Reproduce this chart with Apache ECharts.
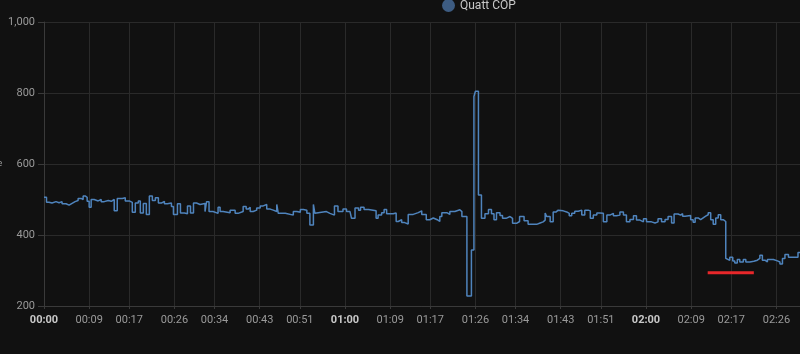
<!DOCTYPE html>
<html>
<head>
<meta charset="utf-8">
<script src="https://cdn.jsdelivr.net/npm/echarts@6/dist/echarts.min.js"></script>
<style>
html,body{margin:0;padding:0;background:#111111;}
#c{width:800px;height:354px;}
</style>
</head>
<body>
<div id="c"></div>
<script>
// time in minutes since 00:00
var times = [
  0, 0.5, 1, 1.6, 2.4, 3, 3.6, 4.4, 5, 5.6, 6.2, 6.8, 7.4, 7.8, 8.2, 8.6, 9, 9.4, 10, 10.8,
  11.4, 12, 12.8, 13.4, 14, 14.6, 15.6, 16.2, 17, 17.6, 18.2, 18.8, 19.2, 19.8, 20.4, 21, 21.6, 22.2, 22.8, 23.4,
  24, 24.6, 25.4, 25.8, 26.6, 27.2, 28, 28.6, 29.2, 29.8, 30.4, 31.1, 32.1, 32.4, 32.9, 33.7, 34.7, 35.1, 35.7, 37.1,
  38.1, 38.7, 39.7, 40.3, 40.7, 41.1, 41.7, 42.4, 43.1, 43.7, 44.4, 45.1, 45.7, 46.4, 46.7, 48.1, 49.7, 50.4, 51.1, 51.7,
  52.4, 53.0, 53.7, 54.0, 54.3, 56.3, 57.0, 57.9, 58.6, 59.6, 60.3, 61.0, 61.3, 62.0, 62.7, 63.1, 63.8, 64.7, 66.2, 66.6,
  67.3, 67.8, 68.3, 69.6, 70.2, 70.6, 71.3, 71.9, 72.6, 73.6, 74.6, 75.3, 76.2, 76.9, 77.6, 78.4, 78.9, 79.3, 80.3, 80.9,
  81.9, 82.9, 83.3, 84.3, 85.2, 85.7, 86.0, 86.6, 87.2, 87.9, 88.6, 89.2, 89.7, 90.2, 90.9, 91.4, 92.1, 92.9, 93.4, 94.2,
  94.8, 95.7, 96.5, 98.2, 98.9, 99.5, 99.9, 100.2, 100.9, 101.5, 102.1, 102.5, 103.5, 104.2, 104.7, 105.2, 105.8, 106.5, 107.2, 107.8,
  108.5, 108.9, 109.5, 110.2, 110.8, 111.5, 112.2, 112.8, 113.5, 114.1, 114.8, 115.5, 116.1, 116.8, 117.5, 118.1, 118.8, 119.5, 120.1, 121.1,
  121.8, 122.4, 123.1, 123.8, 124.4, 125.1, 125.6, 126.4, 126.9, 127.3, 127.8, 128.9, 129.4, 129.8, 130.4, 130.9, 131.4, 131.9, 132.4, 132.9,
  133.4, 133.9, 134.4, 134.9, 135.4, 135.9, 136.2, 136.7, 137.3, 137.7, 138.2, 138.7, 139.4, 139.9, 140.7, 141.5, 142.2, 142.7, 143.2, 143.7,
  144.2, 145.4, 146.2, 146.7, 147.2, 147.7, 148.4, 150.3, 150.7
];
var copValues = [
  506, 492, 490, 494, 491, 494, 488, 484, 489, 494, 497, 503, 500, 510, 506, 495, 478, 500, 496, 500,
  494, 497, 495, 500, 468, 503, 505, 496, 492, 464, 490, 496, 462, 489, 458, 510, 497, 505, 490, 495,
  488, 490, 480, 458, 488, 462, 460, 482, 462, 490, 486, 489, 466, 494, 466, 461, 478, 466, 463, 470,
  461, 466, 480, 473, 478, 466, 470, 476, 482, 486, 473, 470, 466, 486, 461, 456, 466, 464, 472, 470,
  461, 428, 486, 461, 466, 461, 456, 482, 466, 473, 466, 470, 447, 476, 470, 478, 472, 468, 447, 456,
  463, 472, 460, 462, 438, 443, 435, 431, 458, 463, 468, 458, 443, 448, 443, 438, 452, 463, 458, 466,
  471, 466, 452, 228, 358, 790, 805, 513, 447, 460, 472, 460, 443, 463, 455, 447, 452, 447, 433, 438,
  452, 440, 430, 434, 437, 442, 462, 452, 437, 465, 470, 468, 465, 461, 454, 461, 467, 470, 456, 470,
  468, 447, 456, 462, 461, 437, 456, 461, 454, 456, 465, 456, 437, 444, 454, 442, 437, 446, 437, 434,
  437, 446, 437, 444, 452, 434, 459, 456, 460, 453, 455, 443, 436, 448, 443, 448, 453, 457, 463, 443,
  430, 448, 457, 443, 438, 334, 329, 337, 327, 321, 331, 324, 331, 324, 326, 329, 334, 343, 329, 324,
  331, 327, 324, 318, 334, 345, 337, 351, 351
];
var tickMinutes = [0, 9, 17, 26, 34, 43, 51, 60, 69, 77, 86, 94, 103, 111, 120, 129, 137, 146];
var tickLabels = ['00:00','00:09','00:17','00:26','00:34','00:43','00:51','01:00','01:09','01:17','01:26','01:34','01:43','01:51','02:00','02:09','02:17','02:26'];
var boldLabels = ['00:00','01:00','02:00'];
var markTimes = [132.3, 141.5];
var markValues = [294, 294];

var seriesData = times.map(function (t, i) { return [t, copValues[i]]; });
var markData = markTimes.map(function (t, i) { return [t, markValues[i]]; });

var chart = echarts.init(document.getElementById('c'), null, {renderer: 'canvas'});
chart.setOption({
  backgroundColor: '#111111',
  animation: false,
  textStyle: {fontFamily: 'Roboto, Inter, sans-serif'},
  legend: {
    data: [{name: 'Quatt COP', icon: 'circle'}],
    left: 437, top: -6,
    itemWidth: 13, itemHeight: 13, itemGap: 10,
    textStyle: {color: '#c8c8c8', fontSize: 12, fontFamily: 'Roboto, sans-serif'}
  },
  grid: {left: 44, right: 0, top: 22, bottom: 48, containLabel: false, outerBoundsMode: 'none'},
  xAxis: {
    type: 'value', min: 0, max: 150.7,
    axisLine: {show: true, lineStyle: {color: '#3a3a3a'}},
    axisTick: {show: true, customValues: tickMinutes, length: 3, lineStyle: {color: '#3a3a3a'}},
    splitLine: {show: true, lineStyle: {color: '#2a2a2a', width: 1}},
    axisLabel: {
      customValues: tickMinutes,
      margin: 9,
      color: '#9a9a9a', fontSize: 11, fontFamily: 'Roboto, sans-serif',
      formatter: function (v) {
        var i = tickMinutes.indexOf(Math.round(v));
        var s = i >= 0 ? tickLabels[i] : '';
        return boldLabels.indexOf(s) >= 0 ? '{b|' + s + '}' : s;
      },
      rich: {b: {fontWeight: 'bold', color: '#c8c8c8', fontSize: 11, fontFamily: 'Roboto, sans-serif'}}
    }
  },
  yAxis: {
    type: 'value', min: 200, max: 1000, interval: 200,
    name: 'Value', nameLocation: 'middle', nameRotate: 0, nameGap: 40,
    nameTextStyle: {color: '#9a9a9a', fontSize: 9, align: 'right'},
    axisLine: {show: true, lineStyle: {color: '#3a3a3a'}},
    axisTick: {show: true, length: 6, lineStyle: {color: '#3a3a3a'}},
    splitLine: {show: true, lineStyle: {color: '#2a2a2a', width: 1}},
    axisLabel: {
      margin: 9, color: '#9a9a9a', fontSize: 11, fontFamily: 'Roboto, sans-serif',
      formatter: function (v) { return v.toLocaleString('en-US'); }
    }
  },
  series: [
    {
      name: 'Quatt COP', type: 'line', step: 'end', data: seriesData,
      showSymbol: false, symbol: 'none',
      lineStyle: {color: '#4f84bd', width: 1.5},
      itemStyle: {color: '#3d5c82'},
      z: 3
    },
    {
      name: 'mark', type: 'line', data: markData,
      showSymbol: false, symbol: 'none',
      lineStyle: {color: '#e8272a', width: 3},
      itemStyle: {color: '#e8272a'},
      z: 4
    }
  ]
});
</script>
</body>
</html>
